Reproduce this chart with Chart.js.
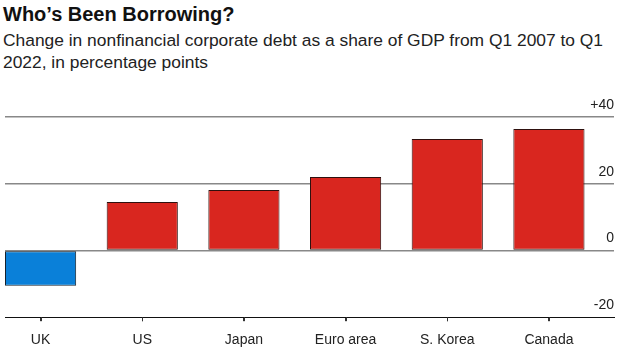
<!DOCTYPE html>
<html>
<head>
<meta charset="utf-8">
<script src="https://cdn.jsdelivr.net/npm/chart.js@4"></script>
<style>
  body { margin: 0; background: #fff; font-family: "Liberation Sans", Arial, sans-serif; overflow: hidden; }
  #wrap { position: relative; width: 627px; height: 350px; overflow: hidden; }
  #title { position: absolute; left: 3px; top: 1px; font-size: 20px; font-weight: bold; color: #111; line-height: 26px; white-space: nowrap; }
  #subtitle { position: absolute; left: 3px; top: 29px; font-size: 17.4px; color: #222; line-height: 22px; white-space: nowrap; }
  #box { position: absolute; left: 0; top: 0; width: 627px; height: 360px; }
</style>
</head>
<body>
<div id="wrap">
  <div id="title">Who’s Been Borrowing?</div>
  <div id="subtitle">Change in nonfinancial corporate debt as a share of GDP from Q1 2007 to Q1<br>2022, in percentage points</div>
  <div id="box"><canvas id="myChart"></canvas></div>
</div>
<script>
// --- DATA ---
const countries = ['UK', 'US', 'Japan', 'Euro area', 'S. Korea', 'Canada'];
const debtChange = [-10.6, 14.5, 18.1, 22.0, 33.4, 36.4];
const yTicks = [-20, 0, 20, 40];
const yTickLabels = ['-20', '0', '20', '+40'];

const RED = '#d9261f';
const BLUE = '#0a80d9';

// small tick marks under the x axis, one per country
const tickMarks = {
    id: 'tickMarks',
    afterDraw(chart) {
        const xs = chart.scales.x;
        const bottom = chart.chartArea.bottom;
        const c = chart.ctx;
        c.save();
        c.strokeStyle = '#333';
        c.lineWidth = 1;
        countries.forEach((name, i) => {
            const px = Math.round(xs.getPixelForValue(i)) + 0.5;
            c.beginPath();
            c.moveTo(px, bottom);
            c.lineTo(px, bottom + 4);
            c.stroke();
        });
        c.restore();
    }
};

// bars sit on a linear x scale so the left/right margins match the original
const ctx = document.getElementById('myChart').getContext('2d');
let myChart = new Chart(ctx, {
    type: 'bar',
    data: {
        datasets: [{
            data: debtChange.map((v, i) => ({ x: i, y: v })),
            backgroundColor: debtChange.map(v => v < 0 ? BLUE : RED),
            borderColor: debtChange.map(v => v < 0 ? '#16222e' : '#2e100e'),
            borderWidth: 1,
            borderSkipped: false,
            categoryPercentage: 1,
            barPercentage: 0.7
        }]
    },
    options: {
        responsive: true,
        maintainAspectRatio: false,
        animation: false,
        layout: { padding: { left: 5, right: 13, top: 117, bottom: 0 } },
        plugins: {
            legend: { display: false },
            tooltip: { enabled: false }
        },
        scales: {
            x: {
                type: 'linear',
                min: -0.35,
                max: 5.64,
                offset: false,
                afterBuildTicks: (scale) => {
                    scale.ticks = countries.map((c, i) => ({ value: i }));
                },
                ticks: {
                    autoSkip: false,
                    maxRotation: 0,
                    padding: 11,
                    color: '#222',
                    font: { family: 'Liberation Sans', size: 14 },
                    callback: (v) => countries[v] ?? ''
                },
                grid: {
                    offset: false,
                    drawOnChartArea: false,
                    drawTicks: true,
                    tickLength: 4,
                    tickColor: '#333'
                },
                border: { display: true, color: '#111', width: 1 }
            },
            y: {
                position: 'right',
                min: -20,
                max: 40,
                afterBuildTicks: (scale) => {
                    scale.ticks = yTicks.map(v => ({ value: v }));
                },
                ticks: {
                    mirror: true,
                    padding: 0,
                    labelOffset: -12,
                    color: '#222',
                    font: { family: 'Liberation Sans', size: 14 },
                    callback: (v) => yTickLabels[yTicks.indexOf(v)]
                },
                grid: {
                    drawTicks: false,
                    lineWidth: 1.5,
                    color: (c) => c.tick && c.tick.value === -20 ? 'rgba(0,0,0,0)' : '#888'
                },
                border: { display: false }
            }
        }
    },
    plugins: [tickMarks]
});
</script>
</body>
</html>
